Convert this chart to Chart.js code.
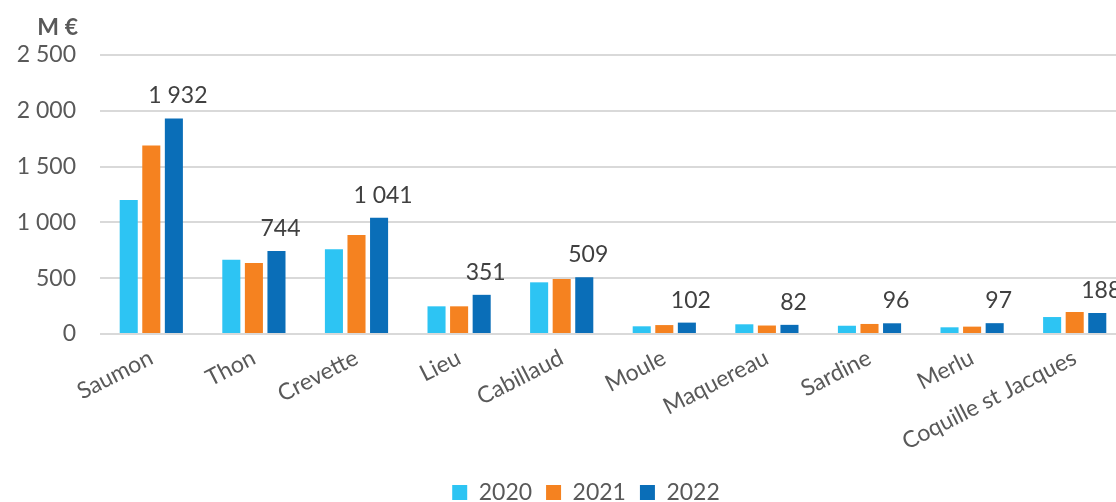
<!DOCTYPE html>
<html>
<head>
<meta charset="utf-8">
<script src="https://cdn.jsdelivr.net/npm/chart.js@4"></script>
<style>
  body { margin: 0; background: #fff; overflow: hidden; }
  #wrap { width: 1126px; height: 502px; }
</style>
</head>
<body>
<div id="wrap"><canvas id="chart"></canvas></div>
<script>
var categories = ['Saumon', 'Thon', 'Crevette', 'Lieu', 'Cabillaud', 'Moule', 'Maquereau', 'Sardine', 'Merlu', 'Coquille st Jacques'];
var years = ['2020', '2021', '2022'];
var values2020 = [1200, 666, 760, 248, 463, 69, 87, 74, 60, 152];
var values2021 = [1690, 636, 888, 248, 493, 80, 76, 90, 66, 197];
var values2022 = [1932, 744, 1041, 351, 509, 102, 82, 96, 97, 188];
var yTicks = [0, 500, 1000, 1500, 2000, 2500];
var colors = ['#2DC4F3', '#F58220', '#0A6EB8'];

const FONT = 'Lato, "Noto Sans", sans-serif';

function fmt(v){
  return String(v).replace(/\B(?=(\d{3})+(?!\d))/g, ' ');
}

// value labels above the 2022 bars
const labelPlugin = {
  id: 'labels2022',
  afterLayout(chart){
    // legend sits a bit right of centre in the original
    chart.legend.left += 23;
    chart.legend.right += 23;
  },
  afterDatasetsDraw(chart){
    const ctx = chart.ctx;
    const meta = chart.getDatasetMeta(2);
    ctx.save();
    ctx.font = '23px ' + FONT;
    ctx.fillStyle = '#404040';
    ctx.textAlign = 'center';
    ctx.textBaseline = 'alphabetic';
    meta.data.forEach(function(bar, i){
      ctx.fillText(fmt(values2022[i]), bar.x + 4, bar.y - 15);
    });
    // unit label
    ctx.font = 'bold 23px ' + FONT;
    ctx.fillStyle = '#595959';
    ctx.textAlign = 'right';
    ctx.fillText('M €', 78, 35);
    ctx.restore();
  }
};

new Chart(document.getElementById('chart').getContext('2d'), {
  type: 'bar',
  data: {
    labels: categories,
    datasets: [
      { label: years[0], data: values2020, backgroundColor: colors[0] },
      { label: years[1], data: values2021, backgroundColor: colors[1] },
      { label: years[2], data: values2022, backgroundColor: colors[2] }
    ]
  },
  options: {
    responsive: true,
    maintainAspectRatio: false,
    animation: false,
    layout: { padding: { top: 55, right: 0, left: 0, bottom: -12 } },
    datasets: { bar: { categoryPercentage: 0.66, barPercentage: 0.8 } },
    scales: {
      x: {
        grid: { display: false },
        border: { display: false },
        ticks: {
          autoSkip: false, minRotation: 27, maxRotation: 27,
          color: '#595959', font: { family: FONT, size: 23 }, padding: 2
        },
        afterFit(scale){
          scale.height = 133;
          scale.paddingRight = 0;
          scale.paddingLeft = 0;
        }
      },
      y: {
        min: 0, max: 2500,
        afterBuildTicks(scale){ scale.ticks = yTicks.map(v => ({ value: v })); },
        grid: { color: '#d9d9d9', lineWidth: 2, drawTicks: false },
        border: { display: false },
        ticks: {
          color: '#595959', font: { family: FONT, size: 23 }, padding: 24,
          callback: v => fmt(v)
        },
        afterFit(scale){ scale.width = 100; }
      }
    },
    plugins: {
      legend: {
        position: 'bottom',
        labels: {
          boxWidth: 15, boxHeight: 15, padding: 14,
          color: '#595959', font: { family: FONT, size: 23 }
        }
      },
      tooltip: { enabled: false }
    }
  },
  plugins: [labelPlugin]
});
</script>
</body>
</html>
